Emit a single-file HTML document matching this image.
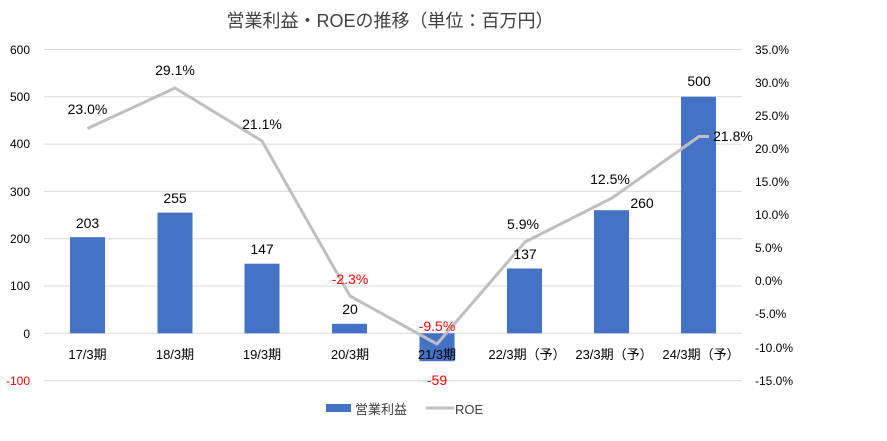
<!DOCTYPE html>
<html><head><meta charset="utf-8"><style>
html,body{margin:0;padding:0;background:#fff}
svg text{font-family:"Liberation Sans","Noto Sans CJK JP",sans-serif}
</style></head><body>
<svg width="887" height="436" viewBox="0 0 887 436" xmlns="http://www.w3.org/2000/svg">
<rect width="887" height="436" fill="#fff"/>
<text x="390" y="27" font-size="18" text-anchor="middle" fill="#404040">営業利益・ROEの推移（単位：百万円）</text>
<g stroke="#d9d9d9" stroke-width="1">
<line x1="44" x2="742" y1="49.5" y2="49.5"/>
<line x1="44" x2="742" y1="96.8" y2="96.8"/>
<line x1="44" x2="742" y1="144.1" y2="144.1"/>
<line x1="44" x2="742" y1="191.4" y2="191.4"/>
<line x1="44" x2="742" y1="238.7" y2="238.7"/>
<line x1="44" x2="742" y1="286" y2="286"/>
<line x1="44" x2="742" y1="333.3" y2="333.3"/>
<line x1="44" x2="742" y1="380.6" y2="380.6"/>
</g>
<g font-size="12" fill="#000" text-anchor="end">
<text x="30" y="54">600</text><text x="30" y="101">500</text><text x="30" y="148">400</text>
<text x="30" y="196">300</text><text x="30" y="243">200</text><text x="30" y="290">100</text>
<text x="30" y="338">0</text><text x="30" y="385" fill="#ff0000">-100</text>
</g>
<g font-size="12" fill="#000">
<text x="755" y="54">35.0%</text><text x="755" y="87">30.0%</text><text x="755" y="120">25.0%</text>
<text x="755" y="153">20.0%</text><text x="755" y="186">15.0%</text><text x="755" y="219">10.0%</text>
<text x="755" y="252">5.0%</text><text x="755" y="285">0.0%</text><text x="755" y="318">-5.0%</text>
<text x="755" y="352">-10.0%</text><text x="755" y="385">-15.0%</text>
</g>
<g fill="#4472c4">
<rect x="70" y="237.2" width="35" height="96.1"/>
<rect x="157.5" y="212.6" width="35" height="120.7"/>
<rect x="244.5" y="263.7" width="35" height="69.6"/>
<rect x="332" y="323.8" width="35" height="9.5"/>
<rect x="419.5" y="333.3" width="35" height="27.9"/>
<rect x="507" y="268.5" width="35" height="64.8"/>
<rect x="594" y="210.2" width="35" height="123.1"/>
<rect x="681" y="96.7" width="35" height="236.6"/>
</g>
<polyline fill="none" stroke="#bfbfbf" stroke-width="3" stroke-linejoin="round" points="87.5,128.5 175,88 262,141 350,296 437,344 525,242 612,198 699,136.5 709,136.5"/>
<g font-size="14" fill="#000" text-anchor="middle">
<text x="87.5" y="228">203</text><text x="175" y="203">255</text><text x="262" y="254">147</text>
<text x="350" y="314">20</text><text x="437" y="385" fill="#ff0000">-59</text>
<text x="525" y="259">137</text><text x="642" y="208">260</text><text x="699" y="86">500</text>
<text x="87.5" y="114">23.0%</text><text x="175" y="75">29.1%</text><text x="262" y="129">21.1%</text>
<text x="350" y="284" fill="#ff0000">-2.3%</text><text x="437" y="331" fill="#ff0000">-9.5%</text>
<text x="523" y="229">5.9%</text><text x="610" y="184">12.5%</text>
<text x="733" y="141">21.8%</text>
</g>
<g font-size="13" fill="#000" text-anchor="middle">
<text x="87.5" y="359">17/3期</text><text x="175" y="359">18/3期</text><text x="262" y="359">19/3期</text>
<text x="350" y="359">20/3期</text><text x="437" y="359">21/3期</text><text x="527" y="359">22/3期（予）</text>
<text x="614" y="359">23/3期（予）</text><text x="701" y="359">24/3期（予）</text>
</g>
<rect x="326" y="404" width="25" height="8" fill="#4472c4"/>
<text x="355" y="414" font-size="13" fill="#404040">営業利益</text>
<line x1="426" x2="454" y1="408" y2="408" stroke="#bfbfbf" stroke-width="3"/>
<text x="455" y="414" font-size="13" fill="#404040">ROE</text>
</svg>
</body></html>
